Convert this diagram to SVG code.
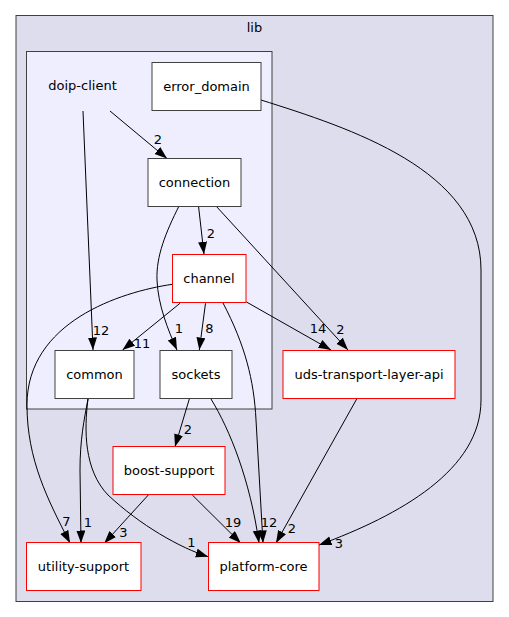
<svg xmlns="http://www.w3.org/2000/svg" width="509" height="617" viewBox="0 0 509 617">
<style>
text{font-family:"DejaVu Sans","Liberation Sans",sans-serif;font-size:13px;fill:#000;text-anchor:middle}
.lbl{font-size:13px}
.n{fill:#fff;stroke:#404040;stroke-width:1}
.r{fill:#fff;stroke:#ff0000;stroke-width:1}
.e{fill:none;stroke:#000;stroke-width:1;marker-end:url(#ah)}
</style>
<defs>
<marker id="ah" markerUnits="userSpaceOnUse" markerWidth="13" markerHeight="10" refX="12.5" refY="4.5" orient="auto">
<path d="M0,0 L12.5,4.5 L0,9 z" fill="#000"/>
</marker>
</defs>
<rect width="509" height="617" fill="#fff"/>
<g id="cluster_lib">
<rect x="16" y="15.5" width="477" height="586" fill="#ddddee" stroke="#404040" stroke-width="1"/>
<text x="254.5" y="32">lib</text>
</g>
<g id="cluster_doip-client">
<rect x="26.5" y="51.5" width="245.5" height="357.5" fill="#eeeeff" stroke="#404040" stroke-width="1"/>
<text x="82.5" y="89.5">doip-client</text>
</g>
<g id="edges">
<path class="e" d="M110,111 L167,158.5"/>
<text class="lbl" x="158" y="144">2</text>
<path class="e" d="M83,111 L93,350"/>
<text class="lbl" x="101" y="335">12</text>
<path class="e" d="M261,100 C350,128 481,170 481,270 L481,400 C481,470 400,515 319,545"/>
<text class="lbl" x="339" y="548">3</text>
<path class="e" d="M198.5,206 L204,254.3"/>
<text class="lbl" x="211" y="238">2</text>
<path class="e" d="M179,206 C166,232 156,256 157,280 C158,305 168,330 177,350"/>
<text class="lbl" x="179" y="333">1</text>
<path class="e" d="M216,206 L348,350"/>
<text class="lbl" x="340.5" y="334">2</text>
<path class="e" d="M180,303.3 L122.5,350"/>
<text class="lbl" x="142" y="348">11</text>
<path class="e" d="M205.5,303.3 L199.3,350"/>
<text class="lbl" x="209.5" y="333">8</text>
<path class="e" d="M246.5,302 L331,350"/>
<text class="lbl" x="318" y="333">14</text>
<path class="e" d="M172.3,284.3 C120,292 27,322 27,405 C27,460 48,500 70,543"/>
<text class="lbl" x="66.5" y="526">7</text>
<path class="e" d="M223,303 C245,345 254,380 256,420 L263,543"/>
<path class="e" d="M189.3,399 L175,446.7"/>
<text class="lbl" x="188" y="434">2</text>
<path class="e" d="M211,399 C230,430 250,480 259,543"/>
<text class="lbl" x="269" y="527">12</text>
<path class="e" d="M88,399 C84,420 80,440 80,470 L81,543"/>
<text class="lbl" x="88" y="526.5">1</text>
<path class="e" d="M88,399 C84,430 84,470 108,495 C140,525 180,548 208.3,556.7"/>
<text class="lbl" x="191.5" y="546.5">1</text>
<path class="e" d="M148.3,495 L104.3,543.3"/>
<text class="lbl" x="123.5" y="537">3</text>
<path class="e" d="M192.3,495 L240.7,543"/>
<text class="lbl" x="233" y="526.5">19</text>
<path class="e" d="M356.7,399 L276,543"/>
<text class="lbl" x="292" y="533">2</text>
</g>
<g id="node_error_domain">
<rect class="n" x="152" y="62.5" width="109" height="48"/>
<text x="206.5" y="91">error_domain</text>
</g>
<g id="node_connection">
<rect class="n" x="148" y="158.5" width="93" height="48"/>
<text x="194.5" y="187">connection</text>
</g>
<g id="node_channel">
<rect class="r" x="172.5" y="254.5" width="73.5" height="48"/>
<text x="209" y="283">channel</text>
</g>
<g id="node_common">
<rect class="n" x="55" y="350.5" width="79" height="48"/>
<text x="94.5" y="379">common</text>
</g>
<g id="node_sockets">
<rect class="n" x="160" y="350.5" width="72" height="48"/>
<text x="196" y="379">sockets</text>
</g>
<g id="node_uds-transport-layer-api">
<rect class="r" x="283" y="350.5" width="172" height="48"/>
<text x="369" y="379">uds-transport-layer-api</text>
</g>
<g id="node_boost-support">
<rect class="r" x="113" y="446.5" width="112" height="48"/>
<text x="169" y="475">boost-support</text>
</g>
<g id="node_utility-support">
<rect class="r" x="26.5" y="542.5" width="114.5" height="48"/>
<text x="83.5" y="571">utility-support</text>
</g>
<g id="node_platform-core">
<rect class="r" x="208.5" y="542.5" width="110.5" height="48"/>
<text x="263.5" y="571">platform-core</text>
</g>
</svg>
